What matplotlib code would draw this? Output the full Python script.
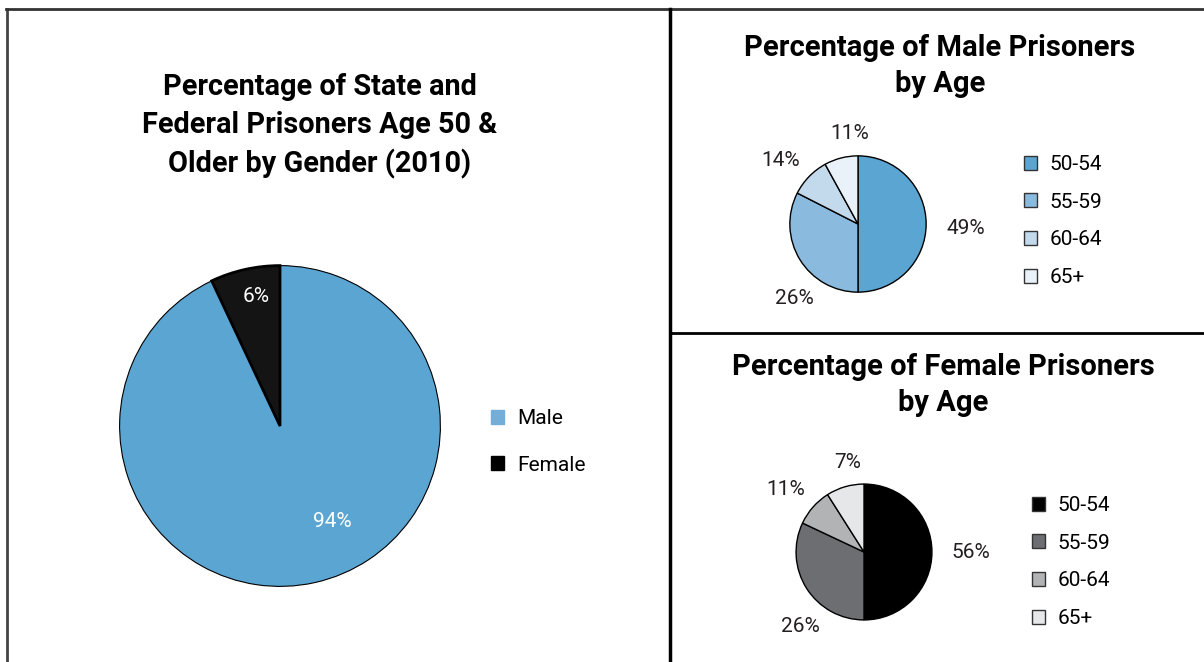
import numpy as np
import matplotlib.pyplot as plt
from matplotlib.lines import Line2D

plt.rcParams['font.family'] = ['Roboto', 'DejaVu Sans']

# data
gender_labels = ['Male', 'Female']
gender_drawn = [93, 7]          # wedge sizes as drawn
gender_text = ['94%', '6%']

age_groups = ['50-54', '55-59', '60-64', '65+']
male_drawn = [50, 32.5, 9.5, 8]
male_text = ['49%', '26%', '14%', '11%']
female_drawn = [50, 32, 9, 9]
female_text = ['56%', '26%', '11%', '7%']

male_colors = ['#5ba5d3', '#8bbadf', '#c3d9ec', '#e9f1f9']
female_colors = ['#000000', '#6d6e71', '#b1b3b5', '#e6e7e8']

W, H = 1204, 662
fig = plt.figure(figsize=(W / 100, H / 100), dpi=100)


def px_axes(cx, cy, r):
    # axes box around a circle given in pixel coords (y from top)
    return fig.add_axes([(cx - r) / W, (H - cy - r) / H, 2 * r / W, 2 * r / H])


def pct_labels(ax, wedges, texts, dist, nudge, color, size):
    # label each wedge at its middle angle, nudged a bit like the original
    for w, t, d, n in zip(wedges, texts, dist, nudge):
        ang = np.deg2rad((w.theta1 + w.theta2) / 2 + n)
        ax.text(d * np.cos(ang), d * np.sin(ang), t, ha='center', va='center',
                color=color, fontsize=size)


# left pie
ax1 = px_axes(280, 426, 162)
w1, _ = ax1.pie(gender_drawn, colors=['#5ba5d3', '#141414'], startangle=90,
                counterclock=False, wedgeprops=dict(edgecolor='black', linewidth=0.8))
w1[1].set_linewidth(2)
pct_labels(ax1, w1, gender_text, [0.68, 0.82], [16, -2], 'white', 15)
ax1.set_xlim(-1.01, 1.01)
ax1.set_ylim(-1.01, 1.01)
fig.text(320 / W, 1 - 126 / H, 'Percentage of State and\nFederal Prisoners Age 50 &\nOlder by Gender (2010)',
         ha='center', va='center', fontsize=20.8, fontweight='bold', linespacing=1.45)
leg_handles = [plt.Rectangle((0, 0), 1, 1, color=c) for c in ['#74add8', '#000000']]
fig.legend(leg_handles, gender_labels, loc='center left', bbox_to_anchor=(472 / W, 1 - 442 / H),
           frameon=False, fontsize=15, handlelength=0.65, handleheight=0.65,
           labelspacing=1.3, handletextpad=0.6)

# male age pie
ax2 = px_axes(858, 224, 69.5)
w2, _ = ax2.pie(male_drawn, colors=male_colors, startangle=90, counterclock=False,
                wedgeprops=dict(edgecolor='black', linewidth=1))
pct_labels(ax2, w2, male_text, [1.59, 1.43, 1.47, 1.33], [-2.6, 18, 5, -9], '#231f20', 15)
ax2.set_xlim(-1.02, 1.02)
ax2.set_ylim(-1.02, 1.02)
fig.text(940 / W, 1 - 66 / H, 'Percentage of Male Prisoners\nby Age', ha='center', va='center',
         fontsize=21, fontweight='bold', linespacing=1.36)
fig.legend([plt.Rectangle((0, 0), 1, 1, facecolor=c, edgecolor='#333333', linewidth=1) for c in male_colors],
           age_groups, loc='center left', bbox_to_anchor=(1005 / W, 1 - 221 / H),
           frameon=False, fontsize=15, handlelength=0.65, handleheight=0.65,
           labelspacing=0.9, handletextpad=0.6)

# female age pie
ax3 = px_axes(864, 552, 69.3)
w3, _ = ax3.pie(female_drawn, colors=female_colors, startangle=90, counterclock=False,
                wedgeprops=dict(edgecolor='black', linewidth=1))
pct_labels(ax3, w3, female_text, [1.57, 1.45, 1.48, 1.34], [0, 17, 3, -6], '#231f20', 15)
ax3.set_xlim(-1.02, 1.02)
ax3.set_ylim(-1.02, 1.02)
fig.text(943 / W, 1 - 385 / H, 'Percentage of Female Prisoners\nby Age', ha='center', va='center',
         fontsize=21, fontweight='bold', linespacing=1.36)
fig.legend([plt.Rectangle((0, 0), 1, 1, facecolor=c, edgecolor='#333333', linewidth=1) for c in female_colors],
           age_groups, loc='center left', bbox_to_anchor=(1013 / W, 1 - 562 / H),
           frameon=False, fontsize=15, handlelength=0.65, handleheight=0.65,
           labelspacing=0.9, handletextpad=0.6)

# panel borders
fig.add_artist(Line2D([7 / W, 7 / W], [0, 1 - 8.5 / H], color='#444444', linewidth=2))
fig.add_artist(Line2D([6 / W, 1], [1 - 8.5 / H, 1 - 8.5 / H], color='#333333', linewidth=2))
fig.add_artist(Line2D([669.5 / W, 669.5 / W], [0, 1 - 8.5 / H], color='black', linewidth=2.5))
fig.add_artist(Line2D([669.5 / W, 1], [1 - 333 / H, 1 - 333 / H], color='black', linewidth=2))

plt.savefig('out.png', dpi=100)
